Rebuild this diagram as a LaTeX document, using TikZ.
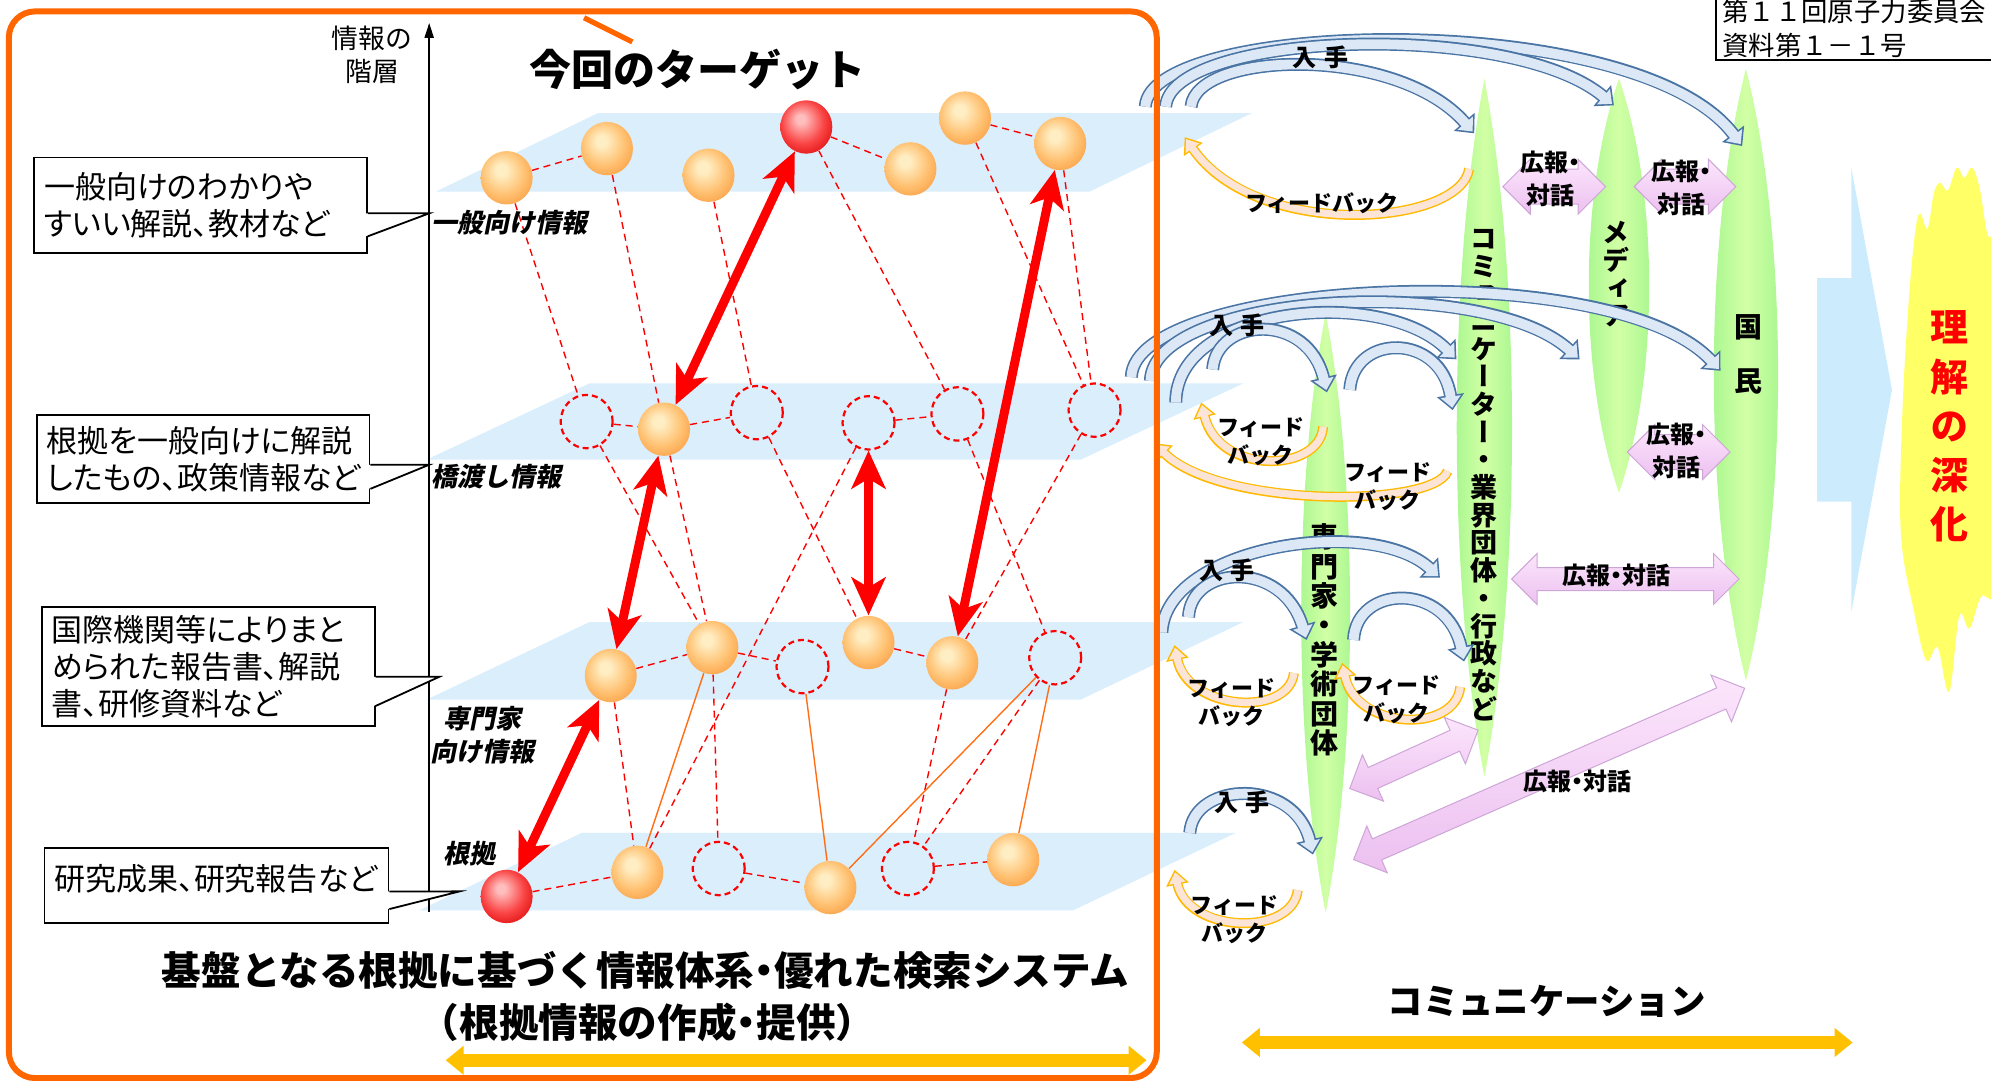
\documentclass[tikz,border=0pt]{standalone}
\usepackage{fontspec}
\setmainfont{Noto Sans CJK JP}
\newfontfamily\notefont{Noto Sans CJK JP}[RawFeature=+palt]
\newfontfamily\tatefont{Noto Sans CJK JP}[RawFeature=+vert]
\newfontfamily\slantfont{Noto Sans CJK JP}[FakeSlant=0.2]
\usetikzlibrary{arrows.meta,shapes.geometric,shapes.arrows}

\definecolor{frameorange}{RGB}{255,102,0}
\definecolor{planeblue}{RGB}{218,238,252}
\definecolor{linkred}{RGB}{255,0,0}
\definecolor{lineorange}{RGB}{255,110,20}
\definecolor{spangold}{RGB}{255,192,0}
\definecolor{eggA}{RGB}{255,238,196}
\definecolor{eggB}{RGB}{255,192,112}
\definecolor{eggC}{RGB}{250,160,70}
\definecolor{rubyA}{RGB}{255,190,190}
\definecolor{rubyB}{RGB}{250,70,70}
\definecolor{rubyC}{RGB}{225,15,15}
\definecolor{getedge}{RGB}{74,116,164}
\definecolor{getfill}{RGB}{220,232,245}
\definecolor{fbedge}{RGB}{255,185,0}
\definecolor{fbfill}{RGB}{252,228,214}
\definecolor{leafgreen}{RGB}{160,245,140}
\definecolor{leaflight}{RGB}{210,255,165}
\definecolor{pinkA}{RGB}{252,230,252}
\definecolor{pinkB}{RGB}{236,192,240}
\definecolor{pinkC}{RGB}{205,165,215}
\definecolor{flowblue}{RGB}{204,236,253}
\definecolor{flame}{RGB}{255,255,102}

\pgfdeclareradialshading{eggorange}{\pgfpoint{-6bp}{8bp}}{color(0bp)=(eggA); color(5bp)=(eggA); color(21bp)=(eggB); color(32bp)=(eggC); color(50bp)=(eggC)}
\pgfdeclareradialshading{eggred}{\pgfpoint{-6bp}{8bp}}{color(0bp)=(rubyA); color(4bp)=(rubyA); color(20bp)=(rubyB); color(32bp)=(rubyC); color(50bp)=(rubyC)}

\tikzset{spindle/.pic={\shade[left color=leafgreen,right color=leafgreen,middle color=leaflight] (0,0) .. controls (1.35,0.28) and (1.35,0.72) .. (0,1) .. controls (-1.35,0.72) and (-1.35,0.28) .. (0,0) -- cycle;}}

\begin{document}
\begin{tikzpicture}[x=0.635pt,y=-0.635pt]

\tikzset{plane/.style={fill=planeblue}}
\tikzset{ball/.style={ellipse,minimum width=26pt,minimum height=26.7pt,inner sep=0pt,shading=eggorange}}
\tikzset{redball/.style={ball,shading=eggred}}
\tikzset{ghost/.style={ellipse,minimum width=26pt,minimum height=26.7pt,inner sep=0pt,draw=linkred,line width=1.1pt,dash pattern=on 3pt off 2pt}}
\tikzset{link/.style={draw=linkred,line width=0.7pt,dash pattern=on 3.5pt off 2.5pt}}
\tikzset{solidlink/.style={draw=lineorange,line width=0.7pt}}
\tikzset{duplex/.style={draw=linkred,line width=4.5pt,{Stealth[length=19pt,width=17pt,inset=5pt]}-{Stealth[length=19pt,width=17pt,inset=5pt]}}}
\tikzset{note/.style={draw,line width=0.9pt,fill=white,align=left,inner xsep=5pt,inner ysep=2pt,font=\notefont\fontsize{15.5}{18.4}\selectfont}}
\tikzset{tier/.style={align=center,inner sep=1pt,font=\slantfont\bfseries\fontsize{13}{16.5}\selectfont}}
\tikzset{tate/.style={align=center,inner sep=0pt,font=\tatefont\bfseries\fontsize{13.5}{13.85}\selectfont}}
\tikzset{getlabel/.style={inner sep=1pt,font=\bfseries\fontsize{12}{14}\selectfont}}
\tikzset{fblabel/.style={align=center,inner sep=1pt,font=\bfseries\fontsize{11}{14}\selectfont}}
\tikzset{talk/.style={align=center,inner sep=0pt,font=\notefont\bfseries\fontsize{12}{16.5}\selectfont}}
\tikzset{getouter/.style={draw=getedge,line width=6.5pt,-{Triangle[length=7.6pt,width=13.3pt]}}}
\tikzset{getinner/.style={draw=getfill,line width=4.9pt,-{Triangle[length=5.6pt,width=9.8pt,sep=1.2pt]}}}
\tikzset{fbouter/.style={draw=fbedge,line width=5pt,-{Triangle[length=7.5pt,width=11pt]}}}
\tikzset{fbinner/.style={draw=fbfill,line width=3.6pt,-{Triangle[length=5.6pt,width=8.2pt,sep=1.2pt]}}}
\tikzset{pinkarrow/.style={double arrow,double arrow head extend=5pt,inner xsep=0pt,inner ysep=8.5pt,top color=pinkA,bottom color=pinkB,draw=pinkC,line width=0.5pt}}
\tikzset{slimpink/.style={pinkarrow,double arrow head extend=7pt,inner ysep=5.5pt}}
\tikzset{span/.style={draw=spangold,line width=6.3pt,{Triangle[length=9pt,width=14pt]}-{Triangle[length=9pt,width=14pt]}}}

\useasboundingbox (0,0) rectangle (1568,851);

%layers
\foreach \t/\b/\l in {89/151/471, 302/362/464, 490/551/464, 656/717/458}
  \fill[plane] (\l-128,\b) -- (\l,\t) -- (\l+515,\t) -- (\l+387,\b) -- cycle;

%axis
\coordinate (axbot) at (338,718);
\coordinate (axtop) at (338,18);
\draw[line width=1pt,-{Triangle[length=7.5pt,width=4.5pt]}] (axbot) -- (axtop);
\node[align=center,font=\fontsize{13.4}{16.5}\selectfont] (axlabel) at (293,43) {情報の\\階層};

%verticies
\foreach \n/\x/\y/\k in {1/399/140/ball, 2/478/117/ball, 3/558/138/ball, 4/635/100/redball, 5/717/133/ball, 6/760/93/ball, 7/835/113/ball}
  \node[\k] (g\n) at (\x,\y) {};
\foreach \n/\x/\y/\k in {1/462/332/ghost, 2/523/338/ball, 3/596/325/ghost, 4/684/333/ghost, 5/754/326/ghost, 6/862/323/ghost}
  \node[\k] (h\n) at (\x,\y) {};
\foreach \n/\x/\y/\k in {1/481/532/ball, 2/561/510/ball, 3/632/525/ghost, 4/684/506/ball, 5/750/522/ball, 6/831/518/ghost}
  \node[\k] (s\n) at (\x,\y) {};
\foreach \n/\x/\y/\k in {1/399/706/redball, 2/502/687/ball, 3/566/684/ghost, 4/654/699/ball, 5/715/684/ghost, 6/798/677/ball}
  \node[\k] (k\n) at (\x,\y) {};

%links
\foreach \a/\b in {g1/g2, g4/g5, g6/g7, g1/h1, g2/h2, g3/h3, g4/h5, g6/h6, g7/h6,
    h1/h2, h2/h3, h4/h5, h1/s2, h2/s2, h3/s4, h5/s6, h6/s5, h4/k2,
    s1/s2, s2/s3, s4/s5, s1/k2, s2/k3, s5/k5, s6/k5, k1/k2, k3/k4, k5/k6}
  \draw[link] (\a) -- (\b);
\foreach \a/\b in {s2/k2, s3/k4, s6/k4, s6/k6}
  \draw[solidlink] (\a) -- (\b);
\foreach \a/\b in {g4/h2, h2/s1, h4/s4, g7/s5, s1/k1}
  \draw[duplex] (\a) -- (\b);

\node[tier] (tg) at (401,175) {一般向け情報};
\node[tier] (tb) at (391,375) {橋渡し情報};
\node[tier] (te) at (380,579) {専門家\\向け情報};
\node[tier] (tr) at (370,672) {根拠};

%callouts
\node[note,text width=156.4pt,minimum height=47.6pt] (note1) at (158,161.5) {一般向けのわかりや\\すいい解説、教材など};
\node[note,text width=156.4pt,minimum height=43.8pt] (note2) at (160,361.5) {根拠を一般向けに解説\\したもの、政策情報など};
\node[note,text width=156.4pt,minimum height=59.7pt] (note3) at (164,525) {国際機関等によりまと\\められた報告書、解説\\書、研修資料など};
\node[note,text width=162pt,text height=19pt,text depth=14.5pt] (note4) at (170.5,697.5) {研究成果、研究報告など};
\coordinate (tip1) at (338,168);
\coordinate (tip2) at (338,366);
\coordinate (tip3) at (346,533);
\coordinate (tip4) at (362,702);
\foreach \n/\up/\lo in {1/4.1/15.6, 2/2.9/14.9, 3/5.1/19.7, 4/2.9/11.7} {
  \fill[white] ([xshift=-1pt,yshift=-\up pt]note\n.east) -- (tip\n) -- ([xshift=-1pt,yshift=-\lo pt]note\n.east) -- cycle;
  \draw[line width=0.9pt] ([yshift=-\up pt]note\n.east) -- (tip\n) -- ([yshift=-\lo pt]note\n.east);
}

%receivers
\pic[xscale=21.5,yscale=550] at (1169,62) {spindle};
\pic[xscale=23.5,yscale=326] at (1275,62) {spindle};
\pic[xscale=25,yscale=482] at (1375,54) {spindle};
\pic[xscale=19,yscale=472] at (1044,247) {spindle};
\node[tate] (comm) at (1169,374) {コ\\ミ\\ュ\\ニ\\ケ\\ー\\タ\\ー\\・\\業\\界\\団\\体\\・\\行\\政\\な\\ど};
\node[tate] (media) at (1273,216) {メ\\デ\\ィ\\ア};
\node[tate,font=\tatefont\bfseries\fontsize{14}{26.7}\selectfont] (nation) at (1377,279) {国\\民};
\node[tate,font=\tatefont\bfseries\fontsize{14}{14.7}\selectfont] (expert) at (1043,504) {専\\門\\家\\・\\学\\術\\団\\体};

%outreach
\node[pinkarrow,minimum height=51.4pt] (pr1) at (1224,147) {};
\node[pinkarrow,minimum height=50.8pt] (pr2) at (1327,147) {};
\node[pinkarrow,minimum height=51.4pt] (pr3) at (1322,356) {};
\node[slimpink,minimum height=113.7pt] (pr4) at (1280,456) {};
\coordinate (pr5a) at (1063,621);
\coordinate (pr5b) at (1164,575);
\path (pr5a) -- node[slimpink,sloped,minimum height=70.5pt] (pr5) {} (pr5b);
\coordinate (pr6a) at (1066,677);
\coordinate (pr6b) at (1374,542);
\path (pr6a) -- node[slimpink,sloped,minimum height=213.5pt] (pr6) {} (pr6b);
\node[talk] (talk1) at (1221,141) {広報・\\対話};
\node[talk] (talk2) at (1324,148) {広報・\\対話};
\node[talk] (talk3) at (1320,355) {広報・\\対話};
\node[talk] (talk4) at (1273,453) {広報・対話};
\node[talk] (talk6) at (1242,615) {広報・対話};

%getting
\foreach \n/\src/\cpa/\cpb/\dst in {
  1/{902,84}/{905,15}/{1290,5}/{1372,115},
  2/{918,84}/{922,25}/{1190,15}/{1271,83},
  3/{938,84}/{942,40}/{1100,35}/{1161,105},
  4/{891,297}/{893,220}/{1270,200}/{1355,292},
  5/{906,300}/{908,230}/{1170,215}/{1244,283},
  6/{926,317}/{926,240}/{1090,225}/{1147,283},
  7/{955,291}/{958,250}/{1030,245}/{1045,309},
  8/{1063,307}/{1066,262}/{1135,262}/{1144,323},
  9/{915,498}/{918,430}/{1080,405}/{1134,455},
  10/{936,486}/{938,445}/{1010,440}/{1029,504},
  11/{1066,504}/{1068,460}/{1140,458}/{1153,521},
  12/{937,656}/{940,615}/{1020,612}/{1034,673}} {
  \coordinate (get\n a) at (\src);
  \coordinate (get\n b) at (\dst);
  \draw[getouter] (get\n a) .. controls (\cpa) and (\cpb) .. (get\n b);
  \draw[getinner] (get\n a) .. controls (\cpa) and (\cpb) .. (get\n b);
}
%feedback
\foreach \n/\src/\cpa/\cpb/\dst in {
  1/{1157,133}/{1150,178}/{990,190}/{933,108},
  2/{1042,336}/{1040,372}/{960,375}/{946,317},
  3/{1140,371}/{1130,400}/{960,400}/{909,349},
  4/{1019,530}/{1015,565}/{935,560}/{925,508},
  5/{1150,541}/{1146,578}/{1068,575}/{1057,522},
  6/{1022,701}/{1018,738}/{935,735}/{925,685}} {
  \coordinate (fb\n a) at (\src);
  \coordinate (fb\n b) at (\dst);
  \draw[fbouter] (fb\n a) .. controls (\cpa) and (\cpb) .. (fb\n b);
  \draw[fbinner] (fb\n a) .. controls (\cpa) and (\cpb) .. (fb\n b);
}
\node[getlabel] (get1) at (1040,45) {入\hspace{0.3em}手};
\node[getlabel] (get2) at (974,256) {入\hspace{0.3em}手};
\node[getlabel] (get3) at (966,449) {入\hspace{0.3em}手};
\node[getlabel] (get4) at (978,632) {入\hspace{0.3em}手};
\node[fblabel] (fbl1) at (1041,160) {フィードバック};
\node[fblabel] (fbl2) at (993,348) {フィード\\バック};
\node[fblabel] (fbl3) at (1093,383) {フィード\\バック};
\node[fblabel] (fbl4) at (970,553) {フィード\\バック};
\node[fblabel] (fbl5) at (1100,551) {フィード\\バック};
\node[fblabel] (fbl6) at (972,724) {フィード\\バック};

%result
\fill[flowblue] (1431,219) -- (1458,219) -- (1458,132) -- (1490,307) -- (1458,482) -- (1458,395) -- (1431,395) -- cycle;
\fill[flame] plot[smooth cycle,tension=0.6] coordinates {(1497,420) (1498,330) (1503,240) (1508,185) (1512,168) (1518,180) (1523,152) (1528,144) (1534,150) (1541,132) (1547,140) (1553,132) (1559,148) (1565,184) (1572,200) (1574,330) (1572,460) (1560,470) (1551,495) (1543,485) (1535,545) (1526,510) (1517,520) (1507,480)};
\node[tate,text=linkred,font=\tatefont\bfseries\fontsize{19}{24.6}\selectfont] (deepen) at (1535,336) {理\\解\\の\\深\\化};

%frame
\draw[frameorange,line width=3pt,rounded corners=13pt] (7,9) rectangle (911,849);
\coordinate (tick1) at (460,14);
\coordinate (tick2) at (498,33);
\draw[frameorange,line width=2.6pt] (tick1) -- (tick2);
\node[font=\bfseries\fontsize{21}{25}\selectfont] (target) at (549,55) {今回のターゲット};
\node[font=\bfseries\fontsize{19.8}{24}\selectfont] (basis) at (508.5,764) {基盤となる根拠に基づく情報体系\kern-0.25em・\kern-0.25em優れた検索システム};
\node[font=\bfseries\fontsize{19.8}{24}\selectfont] (basis2) at (510,805) {（根拠情報の作成\kern-0.25em・\kern-0.25em提供）};
\coordinate (basisL) at (351,835);
\coordinate (basisR) at (903,835);
\draw[span] (basisL) -- (basisR);
\node[font=\bfseries\fontsize{17.7}{21}\selectfont] (commtitle) at (1218,789) {コミュニケーション};
\coordinate (commL) at (978,821);
\coordinate (commR) at (1459,821);
\draw[span] (commL) -- (commR);

%reference
\node[draw,line width=0.9pt,anchor=south west,align=left,inner xsep=3pt,inner ysep=1pt,text width=150pt,fill=white,font=\fontsize{13.2}{17}\selectfont] (docref) at (1351,48) {第１１回原子力委員会\\資料第１－１号};

\end{tikzpicture}
\end{document}
